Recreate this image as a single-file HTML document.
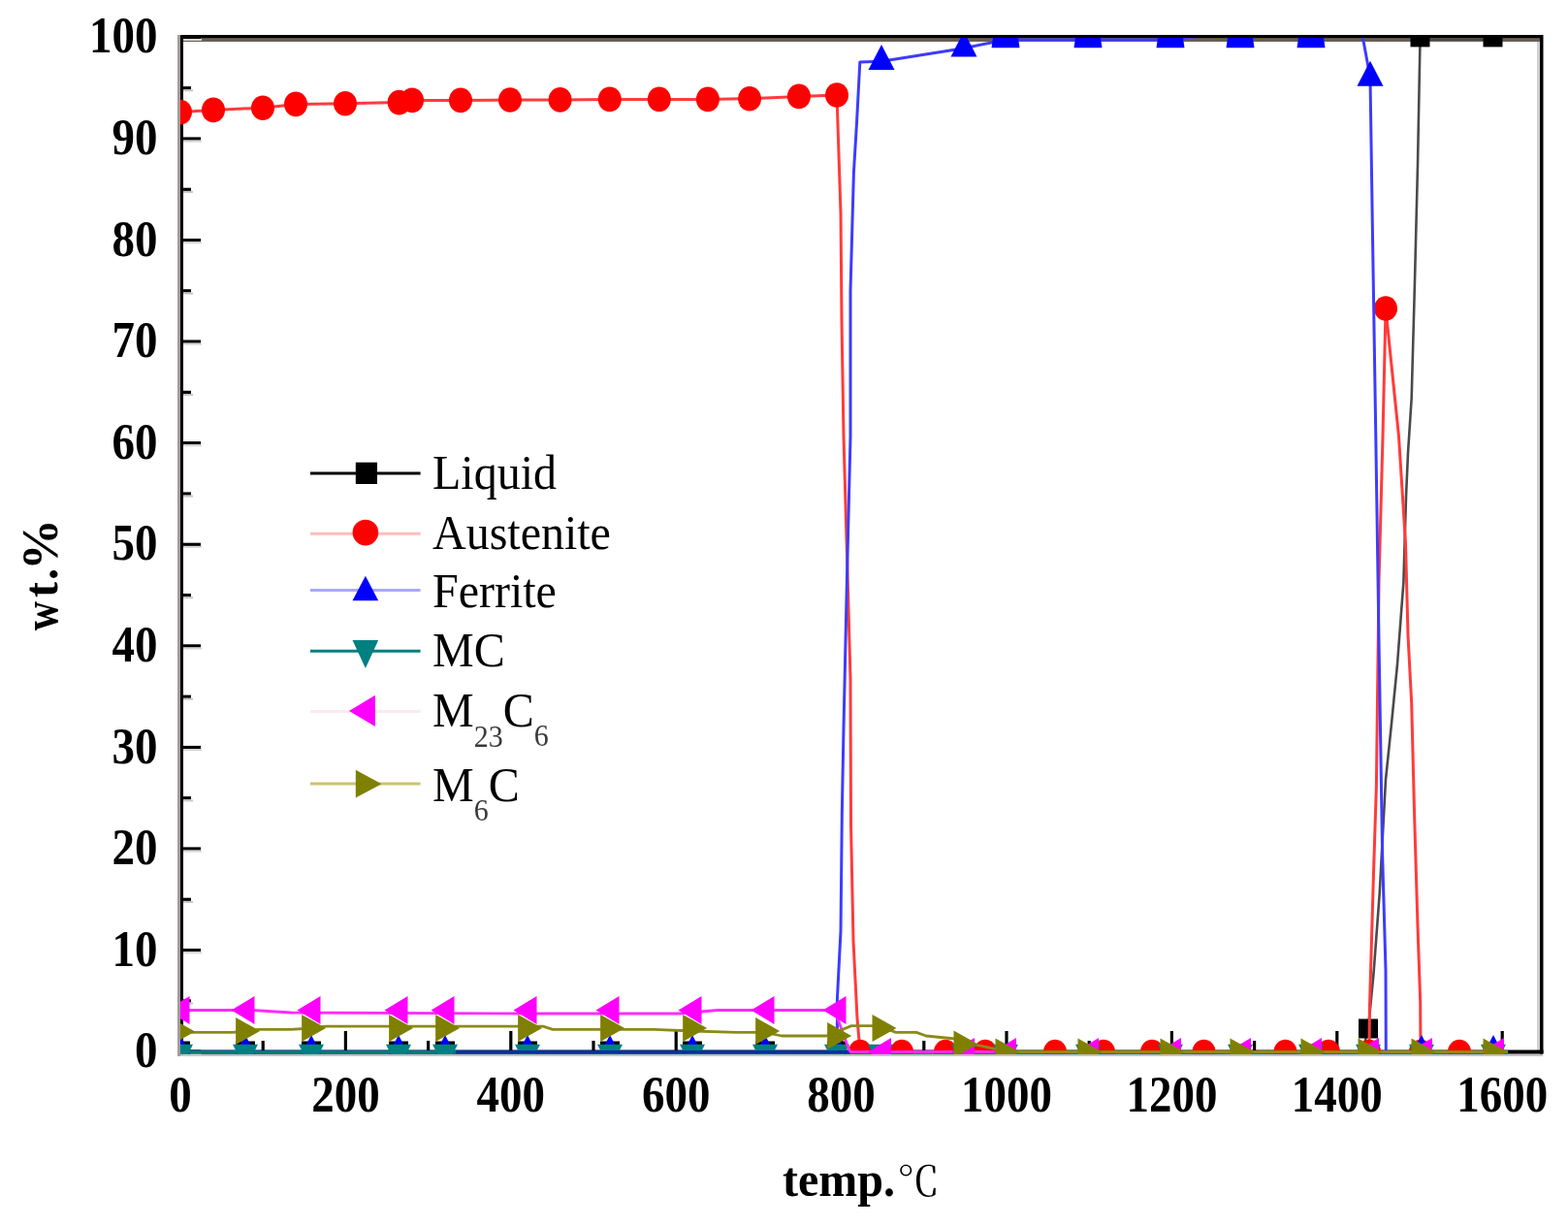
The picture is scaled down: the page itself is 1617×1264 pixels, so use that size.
<!DOCTYPE html>
<html><head><meta charset="utf-8"><title>wt% vs temp</title>
<style>
html,body{margin:0;padding:0;background:#ffffff;}
body{width:1617px;height:1264px;overflow:hidden;position:relative;}
svg{position:absolute;left:0;top:0;display:block;}
</style></head><body>
<svg width="1617" height="1264" viewBox="0 0 1617 1264">
<defs><clipPath id="pc"><rect x="186" y="39" width="1402" height="1048"/></clipPath></defs>
<rect x="0" y="0" width="1617" height="1264" fill="#ffffff"/>
<g id="frame">
<rect x="183" y="36" width="3" height="1053" fill="#a39c9c"/>
<rect x="186" y="39" width="1402" height="4" fill="#6a5f55"/>
<rect x="1585" y="43" width="3" height="1040" fill="#cfcfcf"/>
<rect x="186" y="1086.5" width="1405" height="2.5" fill="#c4c0c4"/>
<rect x="186" y="36" width="1405" height="3.2" fill="#000"/>
<rect x="186" y="36" width="3" height="1050" fill="#000"/>
<rect x="1588" y="36" width="3.5" height="1050.5" fill="#000"/>
<rect x="186" y="1082.5" width="1405.5" height="4" fill="#000"/>
<rect x="189" y="1082.6" width="18" height="3.2" fill="#000"/>
<rect x="189" y="1085.8" width="19" height="2" fill="#d8d4d4"/>
<rect x="189" y="978.0" width="18" height="3.2" fill="#000"/>
<rect x="189" y="981.2" width="19" height="2" fill="#d8d4d4"/>
<rect x="189" y="873.4" width="18" height="3.2" fill="#000"/>
<rect x="189" y="876.6" width="19" height="2" fill="#d8d4d4"/>
<rect x="189" y="768.9" width="18" height="3.2" fill="#000"/>
<rect x="189" y="772.1" width="19" height="2" fill="#d8d4d4"/>
<rect x="189" y="664.3" width="18" height="3.2" fill="#000"/>
<rect x="189" y="667.5" width="19" height="2" fill="#d8d4d4"/>
<rect x="189" y="559.7" width="18" height="3.2" fill="#000"/>
<rect x="189" y="562.9" width="19" height="2" fill="#d8d4d4"/>
<rect x="189" y="455.1" width="18" height="3.2" fill="#000"/>
<rect x="189" y="458.3" width="19" height="2" fill="#d8d4d4"/>
<rect x="189" y="350.5" width="18" height="3.2" fill="#000"/>
<rect x="189" y="353.7" width="19" height="2" fill="#d8d4d4"/>
<rect x="189" y="246.0" width="18" height="3.2" fill="#000"/>
<rect x="189" y="249.2" width="19" height="2" fill="#d8d4d4"/>
<rect x="189" y="141.4" width="18" height="3.2" fill="#000"/>
<rect x="189" y="144.6" width="19" height="2" fill="#d8d4d4"/>
<rect x="189" y="36.8" width="18" height="3.2" fill="#000"/>
<rect x="189" y="40.0" width="19" height="2" fill="#d8d4d4"/>
<rect x="189" y="1030.3" width="8" height="3.2" fill="#000"/>
<rect x="189" y="1033.5" width="10" height="2" fill="#c8c4c4"/>
<rect x="189" y="925.7" width="8" height="3.2" fill="#000"/>
<rect x="189" y="928.9" width="10" height="2" fill="#c8c4c4"/>
<rect x="189" y="821.1" width="8" height="3.2" fill="#000"/>
<rect x="189" y="824.4" width="10" height="2" fill="#c8c4c4"/>
<rect x="189" y="716.6" width="8" height="3.2" fill="#000"/>
<rect x="189" y="719.8" width="10" height="2" fill="#c8c4c4"/>
<rect x="189" y="612.0" width="8" height="3.2" fill="#000"/>
<rect x="189" y="615.2" width="10" height="2" fill="#c8c4c4"/>
<rect x="189" y="507.4" width="8" height="3.2" fill="#000"/>
<rect x="189" y="510.6" width="10" height="2" fill="#c8c4c4"/>
<rect x="189" y="402.8" width="8" height="3.2" fill="#000"/>
<rect x="189" y="406.0" width="10" height="2" fill="#c8c4c4"/>
<rect x="189" y="298.2" width="8" height="3.2" fill="#000"/>
<rect x="189" y="301.5" width="10" height="2" fill="#c8c4c4"/>
<rect x="189" y="193.7" width="8" height="3.2" fill="#000"/>
<rect x="189" y="196.9" width="10" height="2" fill="#c8c4c4"/>
<rect x="189" y="89.1" width="8" height="3.2" fill="#000"/>
<rect x="189" y="92.3" width="10" height="2" fill="#c8c4c4"/>
<rect x="354.8" y="1063" width="3.2" height="20" fill="#000"/>
<rect x="525.2" y="1063" width="3.2" height="20" fill="#000"/>
<rect x="695.6" y="1063" width="3.2" height="20" fill="#000"/>
<rect x="866.0" y="1063" width="3.2" height="20" fill="#000"/>
<rect x="1036.4" y="1063" width="3.2" height="20" fill="#000"/>
<rect x="1206.8" y="1063" width="3.2" height="20" fill="#000"/>
<rect x="1377.2" y="1063" width="3.2" height="20" fill="#000"/>
<rect x="1547.6" y="1063" width="3.2" height="20" fill="#000"/>
<rect x="269.6" y="1073" width="3.2" height="10" fill="#000"/>
<rect x="440.0" y="1073" width="3.2" height="10" fill="#000"/>
<rect x="610.4" y="1073" width="3.2" height="10" fill="#000"/>
<rect x="780.8" y="1073" width="3.2" height="10" fill="#000"/>
<rect x="951.2" y="1073" width="3.2" height="10" fill="#000"/>
<rect x="1121.6" y="1073" width="3.2" height="10" fill="#000"/>
<rect x="1292.0" y="1073" width="3.2" height="10" fill="#000"/>
<rect x="1462.4" y="1073" width="3.2" height="10" fill="#000"/>
</g>
<g clip-path="url(#pc)">
<polyline points="186.0,1084.5 1405.0,1084.5 1411.0,1060.5 1416.5,1004.0 1422.7,921.0 1429.0,804.0 1435.0,746.0 1441.0,685.0 1447.4,600.0 1450.0,512.0 1452.0,467.0 1455.7,410.0 1459.0,290.0 1462.0,170.0 1464.5,40.5 1540.0,40.5" fill="none" stroke="#4a4a4a" stroke-width="2.6" stroke-linejoin="round"/>
<rect x="176.0" y="1073.5" width="20.0" height="20.0" fill="#000"/>
<rect x="243.0" y="1073.5" width="20.0" height="20.0" fill="#000"/>
<rect x="311.0" y="1073.5" width="20.0" height="20.0" fill="#000"/>
<rect x="401.0" y="1073.5" width="20.0" height="20.0" fill="#000"/>
<rect x="449.0" y="1073.5" width="20.0" height="20.0" fill="#000"/>
<rect x="534.0" y="1073.5" width="20.0" height="20.0" fill="#000"/>
<rect x="619.0" y="1073.5" width="20.0" height="20.0" fill="#000"/>
<rect x="704.0" y="1073.5" width="20.0" height="20.0" fill="#000"/>
<rect x="779.0" y="1073.5" width="20.0" height="20.0" fill="#000"/>
<rect x="853.0" y="1073.5" width="20.0" height="20.0" fill="#000"/>
<rect x="1401.0" y="1050.5" width="20.0" height="20.0" fill="#000"/>
<rect x="1454.5" y="28.4" width="20.0" height="20.0" fill="#000"/>
<rect x="1529.5" y="28.4" width="20.0" height="20.0" fill="#000"/>
<polyline points="186.0,115.6 220.0,113.4 271.0,111.2 305.0,107.4 356.0,106.7 411.6,105.6 425.0,103.4 475.0,103.4 526.0,103.0 577.6,102.9 628.8,102.4 679.8,102.4 729.9,102.4 773.0,101.7 823.9,99.4 863.0,98.0 867.0,220.0 868.0,330.0 870.0,450.0 873.7,580.0 877.0,700.0 877.5,850.0 880.0,970.0 884.0,1050.0 887.0,1084.5 930.0,1084.5 975.0,1084.5 1016.0,1084.5 1088.0,1084.5 1138.0,1084.5 1188.0,1084.5 1241.5,1084.5 1325.5,1084.5 1370.0,1084.5 1412.0,1084.5 1412.4,1040.0 1416.5,900.0 1419.4,810.0 1422.0,600.0 1426.0,450.0 1429.0,318.0 1442.5,450.0 1449.5,560.0 1452.0,655.0 1455.7,725.0 1458.6,840.0 1462.0,955.0 1464.7,1033.0 1465.0,1084.5 1505.0,1084.5 1555.0,1084.5" fill="none" stroke="#ff3b3b" stroke-width="3.0" stroke-linejoin="round"/>
<ellipse cx="186.0" cy="115.6" rx="12.0" ry="12.8" fill="#ff0000"/>
<ellipse cx="220.0" cy="113.4" rx="12.0" ry="12.8" fill="#ff0000"/>
<ellipse cx="271.0" cy="111.2" rx="12.0" ry="12.8" fill="#ff0000"/>
<ellipse cx="305.0" cy="107.4" rx="12.0" ry="12.8" fill="#ff0000"/>
<ellipse cx="356.0" cy="106.7" rx="12.0" ry="12.8" fill="#ff0000"/>
<ellipse cx="411.6" cy="105.6" rx="12.0" ry="12.8" fill="#ff0000"/>
<ellipse cx="425.0" cy="103.4" rx="12.0" ry="12.8" fill="#ff0000"/>
<ellipse cx="475.0" cy="103.4" rx="12.0" ry="12.8" fill="#ff0000"/>
<ellipse cx="526.0" cy="103.0" rx="12.0" ry="12.8" fill="#ff0000"/>
<ellipse cx="577.6" cy="102.9" rx="12.0" ry="12.8" fill="#ff0000"/>
<ellipse cx="628.8" cy="102.4" rx="12.0" ry="12.8" fill="#ff0000"/>
<ellipse cx="679.8" cy="102.4" rx="12.0" ry="12.8" fill="#ff0000"/>
<ellipse cx="729.9" cy="102.4" rx="12.0" ry="12.8" fill="#ff0000"/>
<ellipse cx="773.0" cy="101.7" rx="12.0" ry="12.8" fill="#ff0000"/>
<ellipse cx="823.9" cy="99.4" rx="12.0" ry="12.8" fill="#ff0000"/>
<ellipse cx="863.0" cy="98.0" rx="12.0" ry="12.8" fill="#ff0000"/>
<ellipse cx="887.0" cy="1084.5" rx="12.0" ry="12.8" fill="#ff0000"/>
<ellipse cx="930.0" cy="1084.5" rx="12.0" ry="12.8" fill="#ff0000"/>
<ellipse cx="975.0" cy="1084.5" rx="12.0" ry="12.8" fill="#ff0000"/>
<ellipse cx="1016.0" cy="1084.5" rx="12.0" ry="12.8" fill="#ff0000"/>
<ellipse cx="1088.0" cy="1084.5" rx="12.0" ry="12.8" fill="#ff0000"/>
<ellipse cx="1138.0" cy="1084.5" rx="12.0" ry="12.8" fill="#ff0000"/>
<ellipse cx="1188.0" cy="1084.5" rx="12.0" ry="12.8" fill="#ff0000"/>
<ellipse cx="1241.5" cy="1084.5" rx="12.0" ry="12.8" fill="#ff0000"/>
<ellipse cx="1325.5" cy="1084.5" rx="12.0" ry="12.8" fill="#ff0000"/>
<ellipse cx="1370.0" cy="1084.5" rx="12.0" ry="12.8" fill="#ff0000"/>
<ellipse cx="1412.0" cy="1084.5" rx="12.0" ry="12.8" fill="#ff0000"/>
<ellipse cx="1429.0" cy="318.0" rx="12.0" ry="12.8" fill="#ff0000"/>
<ellipse cx="1465.0" cy="1084.5" rx="12.0" ry="12.8" fill="#ff0000"/>
<ellipse cx="1505.0" cy="1084.5" rx="12.0" ry="12.8" fill="#ff0000"/>
<polyline points="186.0,1084.5 863.4,1084.5 863.4,1030.0 867.0,960.0 868.3,840.0 870.0,750.0 873.7,585.0 877.0,450.0 877.0,300.0 880.4,178.0 883.6,125.0 886.8,64.0 909.0,63.2 994.0,49.7 1037.0,41.0 1207.0,41.0 1235.0,37.5 1352.0,37.5 1404.0,37.5 1406.0,42.0 1413.0,80.0 1415.6,250.0 1418.8,450.0 1422.0,660.0 1425.6,880.0 1429.0,1000.0 1429.3,1084.5 1555.0,1084.5" fill="none" stroke="#3c3cff" stroke-width="3.0" stroke-linejoin="round"/>
<polygon points="186.0,1067.0 199.5,1093.0 172.5,1093.0" fill="#0000ff"/>
<polygon points="253.0,1067.0 266.5,1093.0 239.5,1093.0" fill="#0000ff"/>
<polygon points="321.0,1067.0 334.5,1093.0 307.5,1093.0" fill="#0000ff"/>
<polygon points="411.0,1067.0 424.5,1093.0 397.5,1093.0" fill="#0000ff"/>
<polygon points="459.0,1067.0 472.5,1093.0 445.5,1093.0" fill="#0000ff"/>
<polygon points="544.0,1067.0 557.5,1093.0 530.5,1093.0" fill="#0000ff"/>
<polygon points="629.0,1067.0 642.5,1093.0 615.5,1093.0" fill="#0000ff"/>
<polygon points="714.0,1067.0 727.5,1093.0 700.5,1093.0" fill="#0000ff"/>
<polygon points="789.0,1067.0 802.5,1093.0 775.5,1093.0" fill="#0000ff"/>
<polygon points="863.0,1067.0 876.5,1093.0 849.5,1093.0" fill="#0000ff"/>
<polygon points="909.0,45.9 922.5,71.9 895.5,71.9" fill="#0000ff"/>
<polygon points="994.0,32.4 1007.5,58.4 980.5,58.4" fill="#0000ff"/>
<polygon points="1024.0,39 1050.0,39 1051.5,49.2 1022.5,49.2" fill="#0000ff"/>
<polygon points="1109.0,39 1135.0,39 1136.5,49.2 1107.5,49.2" fill="#0000ff"/>
<polygon points="1194.0,39 1220.0,39 1221.5,49.2 1192.5,49.2" fill="#0000ff"/>
<polygon points="1266.0,39 1292.0,39 1293.5,49.2 1264.5,49.2" fill="#0000ff"/>
<polygon points="1339.0,39 1365.0,39 1366.5,49.2 1337.5,49.2" fill="#0000ff"/>
<polygon points="1413.0,62.7 1426.5,88.7 1399.5,88.7" fill="#0000ff"/>
<polygon points="1466.0,1067.0 1479.5,1093.0 1452.5,1093.0" fill="#0000ff"/>
<polygon points="1540.0,1067.0 1553.5,1093.0 1526.5,1093.0" fill="#0000ff"/>
<polyline points="186.0,1085.0 1555.0,1085.0" fill="none" stroke="#007a7a" stroke-width="3.6" stroke-linejoin="round"/>
<polygon points="173.0,1076.8 199.0,1076.8 186.0,1102.8" fill="#008080"/>
<polygon points="240.0,1076.8 266.0,1076.8 253.0,1102.8" fill="#008080"/>
<polygon points="308.0,1076.8 334.0,1076.8 321.0,1102.8" fill="#008080"/>
<polygon points="398.0,1076.8 424.0,1076.8 411.0,1102.8" fill="#008080"/>
<polygon points="446.0,1076.8 472.0,1076.8 459.0,1102.8" fill="#008080"/>
<polygon points="531.0,1076.8 557.0,1076.8 544.0,1102.8" fill="#008080"/>
<polygon points="616.0,1076.8 642.0,1076.8 629.0,1102.8" fill="#008080"/>
<polygon points="701.0,1076.8 727.0,1076.8 714.0,1102.8" fill="#008080"/>
<polygon points="776.0,1076.8 802.0,1076.8 789.0,1102.8" fill="#008080"/>
<polygon points="850.0,1076.8 876.0,1076.8 863.0,1102.8" fill="#008080"/>
<polygon points="895.0,1076.8 921.0,1076.8 908.0,1102.8" fill="#008080"/>
<polygon points="981.0,1076.8 1007.0,1076.8 994.0,1102.8" fill="#008080"/>
<polygon points="1024.0,1076.8 1050.0,1076.8 1037.0,1102.8" fill="#008080"/>
<polygon points="1109.0,1076.8 1135.0,1076.8 1122.0,1102.8" fill="#008080"/>
<polygon points="1194.0,1076.8 1220.0,1076.8 1207.0,1102.8" fill="#008080"/>
<polygon points="1266.0,1076.8 1292.0,1076.8 1279.0,1102.8" fill="#008080"/>
<polygon points="1339.0,1076.8 1365.0,1076.8 1352.0,1102.8" fill="#008080"/>
<polygon points="1398.0,1076.8 1424.0,1076.8 1411.0,1102.8" fill="#008080"/>
<polygon points="1453.0,1076.8 1479.0,1076.8 1466.0,1102.8" fill="#008080"/>
<polygon points="1527.0,1076.8 1553.0,1076.8 1540.0,1102.8" fill="#008080"/>
<polyline points="470.0,1084.8 877.0,1084.8" fill="none" stroke="#0a2e9e" stroke-width="3.4" stroke-linejoin="round"/>
<polyline points="186.0,1041.5 260.0,1041.5 300.0,1044.0 560.0,1045.0 700.0,1045.0 740.0,1041.5 860.5,1041.5 866.0,1056.0 874.0,1078.0 877.0,1084.5 1555.0,1084.5" fill="none" stroke="#ff2cff" stroke-width="2.8" stroke-linejoin="round"/>
<polygon points="171.5,1041.5 195.5,1027.0 195.5,1056.0" fill="#ff00ff"/>
<polygon points="238.5,1041.5 262.5,1027.0 262.5,1056.0" fill="#ff00ff"/>
<polygon points="306.5,1041.5 330.5,1027.0 330.5,1056.0" fill="#ff00ff"/>
<polygon points="396.5,1041.5 420.5,1027.0 420.5,1056.0" fill="#ff00ff"/>
<polygon points="444.5,1041.5 468.5,1027.0 468.5,1056.0" fill="#ff00ff"/>
<polygon points="529.5,1041.5 553.5,1027.0 553.5,1056.0" fill="#ff00ff"/>
<polygon points="614.5,1041.5 638.5,1027.0 638.5,1056.0" fill="#ff00ff"/>
<polygon points="699.5,1041.5 723.5,1027.0 723.5,1056.0" fill="#ff00ff"/>
<polygon points="774.5,1041.5 798.5,1027.0 798.5,1056.0" fill="#ff00ff"/>
<polygon points="848.5,1041.5 872.5,1027.0 872.5,1056.0" fill="#ff00ff"/>
<polygon points="895.0,1084.5 919.0,1070.0 919.0,1099.0" fill="#ff00ff"/>
<polygon points="981.0,1084.5 1005.0,1070.0 1005.0,1099.0" fill="#ff00ff"/>
<polygon points="1024.0,1084.5 1048.0,1070.0 1048.0,1099.0" fill="#ff00ff"/>
<polygon points="1109.0,1084.5 1133.0,1070.0 1133.0,1099.0" fill="#ff00ff"/>
<polygon points="1194.0,1084.5 1218.0,1070.0 1218.0,1099.0" fill="#ff00ff"/>
<polygon points="1266.0,1084.5 1290.0,1070.0 1290.0,1099.0" fill="#ff00ff"/>
<polygon points="1339.0,1084.5 1363.0,1070.0 1363.0,1099.0" fill="#ff00ff"/>
<polygon points="1398.0,1084.5 1422.0,1070.0 1422.0,1099.0" fill="#ff00ff"/>
<polygon points="1453.0,1084.5 1477.0,1070.0 1477.0,1099.0" fill="#ff00ff"/>
<polygon points="1527.0,1084.5 1551.0,1070.0 1551.0,1099.0" fill="#ff00ff"/>
<polyline points="186.0,1064.4 240.0,1064.4 253.0,1063.0 266.0,1061.3 300.0,1061.3 321.0,1060.0 336.0,1058.2 560.0,1058.2 570.0,1061.3 675.0,1061.3 714.0,1063.0 760.0,1064.4 789.0,1064.4 806.0,1068.0 852.0,1068.0 865.0,1063.0 878.0,1057.6 899.0,1057.6 912.0,1060.0 924.0,1064.4 945.0,1064.4 955.0,1068.0 985.0,1071.0 996.0,1075.0 1029.0,1082.0 1037.0,1084.5 1555.0,1084.5" fill="none" stroke="#8c8a1a" stroke-width="2.8" stroke-linejoin="round"/>
<polygon points="176.1,1049.5 201.1,1063.5 176.1,1077.5" fill="#808000"/>
<polygon points="243.1,1049.0 268.1,1063.0 243.1,1077.0" fill="#808000"/>
<polygon points="311.1,1046.0 336.1,1060.0 311.1,1074.0" fill="#808000"/>
<polygon points="401.1,1046.0 426.1,1060.0 401.1,1074.0" fill="#808000"/>
<polygon points="449.1,1046.0 474.1,1060.0 449.1,1074.0" fill="#808000"/>
<polygon points="534.1,1046.0 559.1,1060.0 534.1,1074.0" fill="#808000"/>
<polygon points="619.1,1046.0 644.1,1060.0 619.1,1074.0" fill="#808000"/>
<polygon points="704.1,1046.0 729.1,1060.0 704.1,1074.0" fill="#808000"/>
<polygon points="779.1,1049.0 804.1,1063.0 779.1,1077.0" fill="#808000"/>
<polygon points="853.1,1054.0 878.1,1068.0 853.1,1082.0" fill="#808000"/>
<polygon points="899.5,1046.0 924.5,1060.0 899.5,1074.0" fill="#808000"/>
<polygon points="983.5,1062.5 1008.5,1076.5 983.5,1090.5" fill="#808000"/>
<polygon points="1026.5,1070.5 1051.5,1084.5 1026.5,1098.5" fill="#808000"/>
<polygon points="1111.5,1070.5 1136.5,1084.5 1111.5,1098.5" fill="#808000"/>
<polygon points="1196.5,1070.5 1221.5,1084.5 1196.5,1098.5" fill="#808000"/>
<polygon points="1268.5,1070.5 1293.5,1084.5 1268.5,1098.5" fill="#808000"/>
<polygon points="1341.5,1070.5 1366.5,1084.5 1341.5,1098.5" fill="#808000"/>
<polygon points="1400.5,1070.5 1425.5,1084.5 1400.5,1098.5" fill="#808000"/>
<polygon points="1455.5,1070.5 1480.5,1084.5 1455.5,1098.5" fill="#808000"/>
<polygon points="1529.5,1070.5 1554.5,1084.5 1529.5,1098.5" fill="#808000"/>
</g>
<text transform="translate(162.5,1100.2) scale(1,1.12)" text-anchor="end" font-family="'Liberation Serif', 'Times New Roman', serif" font-weight="bold" font-size="47" fill="#000">0</text>
<text transform="translate(162.5,995.6) scale(1,1.12)" text-anchor="end" font-family="'Liberation Serif', 'Times New Roman', serif" font-weight="bold" font-size="47" fill="#000">10</text>
<text transform="translate(162.5,891.0) scale(1,1.12)" text-anchor="end" font-family="'Liberation Serif', 'Times New Roman', serif" font-weight="bold" font-size="47" fill="#000">20</text>
<text transform="translate(162.5,786.5) scale(1,1.12)" text-anchor="end" font-family="'Liberation Serif', 'Times New Roman', serif" font-weight="bold" font-size="47" fill="#000">30</text>
<text transform="translate(162.5,681.9) scale(1,1.12)" text-anchor="end" font-family="'Liberation Serif', 'Times New Roman', serif" font-weight="bold" font-size="47" fill="#000">40</text>
<text transform="translate(162.5,577.3) scale(1,1.12)" text-anchor="end" font-family="'Liberation Serif', 'Times New Roman', serif" font-weight="bold" font-size="47" fill="#000">50</text>
<text transform="translate(162.5,472.7) scale(1,1.12)" text-anchor="end" font-family="'Liberation Serif', 'Times New Roman', serif" font-weight="bold" font-size="47" fill="#000">60</text>
<text transform="translate(162.5,368.1) scale(1,1.12)" text-anchor="end" font-family="'Liberation Serif', 'Times New Roman', serif" font-weight="bold" font-size="47" fill="#000">70</text>
<text transform="translate(162.5,263.6) scale(1,1.12)" text-anchor="end" font-family="'Liberation Serif', 'Times New Roman', serif" font-weight="bold" font-size="47" fill="#000">80</text>
<text transform="translate(162.5,159.0) scale(1,1.12)" text-anchor="end" font-family="'Liberation Serif', 'Times New Roman', serif" font-weight="bold" font-size="47" fill="#000">90</text>
<text transform="translate(162.5,54.4) scale(1,1.12)" text-anchor="end" font-family="'Liberation Serif', 'Times New Roman', serif" font-weight="bold" font-size="47" fill="#000">100</text>
<text transform="translate(186.0,1146) scale(1,1.12)" text-anchor="middle" font-family="'Liberation Serif', 'Times New Roman', serif" font-weight="bold" font-size="47" fill="#000">0</text>
<text transform="translate(356.4,1146) scale(1,1.12)" text-anchor="middle" font-family="'Liberation Serif', 'Times New Roman', serif" font-weight="bold" font-size="47" fill="#000">200</text>
<text transform="translate(526.8,1146) scale(1,1.12)" text-anchor="middle" font-family="'Liberation Serif', 'Times New Roman', serif" font-weight="bold" font-size="47" fill="#000">400</text>
<text transform="translate(697.2,1146) scale(1,1.12)" text-anchor="middle" font-family="'Liberation Serif', 'Times New Roman', serif" font-weight="bold" font-size="47" fill="#000">600</text>
<text transform="translate(867.6,1146) scale(1,1.12)" text-anchor="middle" font-family="'Liberation Serif', 'Times New Roman', serif" font-weight="bold" font-size="47" fill="#000">800</text>
<text transform="translate(1038.0,1146) scale(1,1.12)" text-anchor="middle" font-family="'Liberation Serif', 'Times New Roman', serif" font-weight="bold" font-size="47" fill="#000">1000</text>
<text transform="translate(1208.4,1146) scale(1,1.12)" text-anchor="middle" font-family="'Liberation Serif', 'Times New Roman', serif" font-weight="bold" font-size="47" fill="#000">1200</text>
<text transform="translate(1378.8,1146) scale(1,1.12)" text-anchor="middle" font-family="'Liberation Serif', 'Times New Roman', serif" font-weight="bold" font-size="47" fill="#000">1400</text>
<text transform="translate(1549.2,1146) scale(1,1.12)" text-anchor="middle" font-family="'Liberation Serif', 'Times New Roman', serif" font-weight="bold" font-size="47" fill="#000">1600</text>
<text transform="translate(58.6,650) rotate(-90)" font-family="'Liberation Serif', 'Times New Roman', serif" font-weight="bold" font-size="50" fill="#000"><tspan x="0" textLength="30" lengthAdjust="spacingAndGlyphs">w</tspan><tspan x="34" textLength="16" lengthAdjust="spacingAndGlyphs">t</tspan><tspan x="52" textLength="12" lengthAdjust="spacingAndGlyphs">.</tspan><tspan x="62" font-size="53" textLength="53" lengthAdjust="spacingAndGlyphs">%</tspan></text>
<text transform="translate(807,1233) scale(1,1.05)" font-family="'Liberation Serif', 'Times New Roman', serif" font-weight="bold" font-size="48" fill="#000">temp.<tspan font-family="'Liberation Serif', 'Noto Serif CJK SC', serif" font-weight="normal" font-size="40" dx="2" textLength="44" lengthAdjust="spacingAndGlyphs">&#8451;</tspan></text>
<line x1="320" y1="488" x2="433.6" y2="488" stroke="#000" stroke-width="3"/>
<rect x="366.8" y="476.7" width="22.2" height="22.3" fill="#000"/>
<line x1="320" y1="550.2" x2="433.6" y2="550.2" stroke="#ffbcbc" stroke-width="3"/>
<ellipse cx="376.9" cy="549.1" rx="13.3" ry="13.4" fill="#ff0000"/>
<line x1="320" y1="608.6" x2="433.6" y2="608.6" stroke="#a8a8ff" stroke-width="3"/>
<polygon points="376.9,593.7 390.2,619.3 363.5,619.3" fill="#0000ff"/>
<line x1="320" y1="671.2" x2="433.6" y2="671.2" stroke="#008080" stroke-width="3"/>
<polygon points="363.5,660.0 390.2,660.0 376.9,689.0" fill="#008080"/>
<line x1="320" y1="733.5" x2="433.6" y2="733.5" stroke="#fbeaf0" stroke-width="3"/>
<polygon points="360.0,732.9 386.9,716.8 386.9,749.0" fill="#ff00ff"/>
<line x1="320" y1="808" x2="433.6" y2="808" stroke="#cbc470" stroke-width="3"/>
<polygon points="366.8,793.7 393.5,808.2 366.8,822.6" fill="#808000"/>
<text transform="translate(446,503.5) scale(1,1.05)" font-family="'Liberation Serif', 'Times New Roman', serif" font-size="48" fill="#000">Liquid</text>
<text transform="translate(446,565.8) scale(1,1.05)" font-family="'Liberation Serif', 'Times New Roman', serif" font-size="48" fill="#000">Austenite</text>
<text transform="translate(446,626) scale(1,1.05)" font-family="'Liberation Serif', 'Times New Roman', serif" font-size="48" fill="#000">Ferrite</text>
<text transform="translate(446,686.8) scale(1,1.05)" font-family="'Liberation Serif', 'Times New Roman', serif" font-size="48" fill="#000">MC</text>
<text transform="translate(446,749) scale(1,1.05)" font-family="'Liberation Serif', 'Times New Roman', serif" font-size="48" fill="#000">M<tspan font-size="30" dy="20" fill="#3a3a3a">23</tspan><tspan dy="-20">C</tspan><tspan font-size="30" dy="19" fill="#3a3a3a">6</tspan></text>
<text transform="translate(446,826) scale(1,1.05)" font-family="'Liberation Serif', 'Times New Roman', serif" font-size="48" fill="#000">M<tspan font-size="30" dy="19" fill="#3a3a3a">6</tspan><tspan dy="-19">C</tspan></text>
</svg>
</body></html>
